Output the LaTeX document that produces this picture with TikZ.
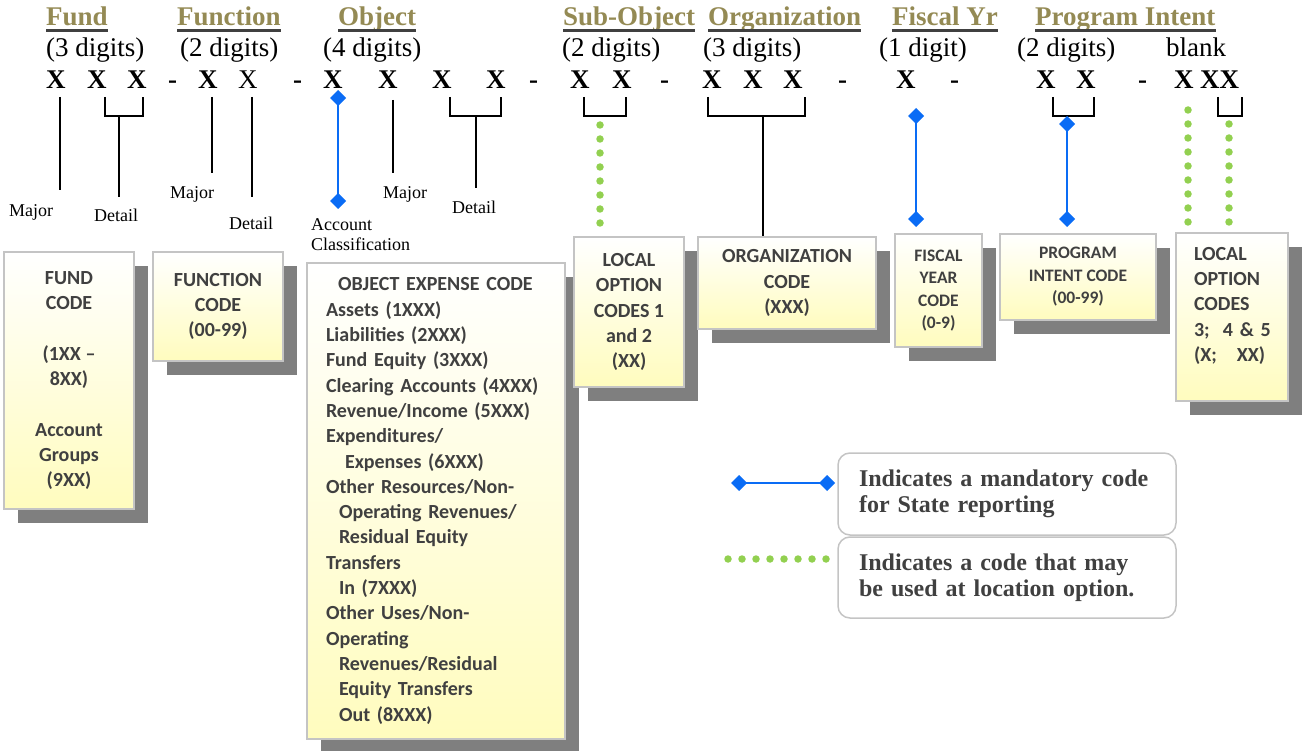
\documentclass[tikz,border=0pt]{standalone}
\usepackage{fontspec}
\setmainfont{Liberation Serif}
\newfontfamily\boxsans{Carlito}
\usetikzlibrary{arrows.meta,shadows}
\definecolor{headOlive}{HTML}{948A54}
\definecolor{codeBlue}{HTML}{0A6CF5}
\definecolor{optGreen}{HTML}{92D050}
\definecolor{boxGray}{HTML}{404040}
\definecolor{boxEdge}{HTML}{C4C4C4}
\definecolor{boxCream}{HTML}{FFFCBE}
\definecolor{shadeGray}{HTML}{7F7F7F}
\tikzset{
  hd/.style={font=\bfseries\fontsize{27}{30}\selectfont, text=headOlive, inner sep=0, anchor=base west},
  dg/.style={font=\fontsize{27}{30}\selectfont, inner sep=0, anchor=base west},
  xd/.style={dg, font=\bfseries\fontsize{27}{30}\selectfont},
  sm/.style={font=\fontsize{18}{20}\selectfont, inner sep=0, anchor=base west},
}

\begin{document}
\begin{tikzpicture}[x=1pt, y=-1pt,
  codebox/.style={draw=boxEdge, line width=1.5pt, top color=white, bottom color=boxCream,
    general shadow={fill=shadeGray, shadow xshift=14pt, shadow yshift=-14pt},
    text=boxGray, align=center, inner sep=0, font=\boxsans\bfseries\fontsize{20}{25.3}\selectfont},
  smallbox/.style={codebox, font=\boxsans\bfseries\fontsize{17.5}{22.5}\selectfont},
  keybox/.style={draw=boxEdge, line width=1.5pt, rounded corners=12pt, minimum width=338pt,
    text width=296pt, inner xsep=21pt, align=left, text=boxGray, font=\bfseries\fontsize{24}{26}\selectfont},
  uline/.style={boxGray, line width=2.5pt},
  tick/.style={line width=1.6pt},
  must/.style={codeBlue, line width=2.5pt, arrows={Diamond[width=16pt,length=16pt]-Diamond[width=16pt,length=16pt]}},
  opt/.style={optGreen, line width=7.5pt, line cap=round, dash pattern=on 0pt off 14pt}]
  \useasboundingbox (0,0) rectangle (1306,751);
  % headings
  \node[hd] (hFund) at (46,26)   {Fund};
  \node[hd] (hFunc) at (177,26)  {Function};
  \node[hd] (hObj)  at (338,26)  {Object};
  \node[hd] (hSub)  at (563,26)  {Sub-Object};
  \node[hd] (hOrg)  at (708,26)  {Organization};
  \node[hd] (hFy)   at (892,26)  {Fiscal Yr};
  \node[hd] (hProg) at (1035,26) {Program Intent};
  \foreach \h in {hFund,hFunc,hObj,hSub,hOrg,hFy,hProg}
    \draw[uline] ([yshift=-4.5pt]\h.base west) -- ([yshift=-4.5pt]\h.base east);
  \node[dg] (nFund) at (46,57)   {(3 digits)};
  \node[dg] (nFunc) at (180,57)  {(2 digits)};
  \node[dg] (nObj)  at (323,57)  {(4 digits)};
  \node[dg] (nSub)  at (562,57)  {(2 digits)};
  \node[dg] (nOrg)  at (703,57)  {(3 digits)};
  \node[dg] (nFy)   at (879,57)  {(1 digit)};
  \node[dg] (nProg) at (1017,57) {(2 digits)};
  \node[dg] (nBlank) at (1166,57) {blank};
  % code digits
  \node[xd] (xFa) at (46,89) {X};  \node[xd] (xFb) at (87,89) {X};  \node[xd] (xFc) at (127,89) {X};
  \node[xd] (dA) at (168,89) {-};
  \node[xd] (xNa) at (198,89) {X}; \node[dg] (xNb) at (238,89) {X};
  \node[xd] (dB) at (293,89) {-};
  \node[xd] (xOa) at (323,89) {X}; \node[xd] (xOb) at (378,89) {X};
  \node[xd] (xOc) at (432,89) {X}; \node[xd] (xOd) at (486,89) {X};
  \node[xd] (dC) at (529,89) {-};
  \node[xd] (xSa) at (570,89) {X}; \node[xd] (xSb) at (612,89) {X};
  \node[xd] (dD) at (660,89) {-};
  \node[xd] (xGa) at (702,89) {X}; \node[xd] (xGb) at (743,89) {X}; \node[xd] (xGc) at (783,89) {X};
  \node[xd] (dE) at (838,89) {-};
  \node[xd] (xY) at (896,89) {X};
  \node[xd] (dF) at (950,89) {-};
  \node[xd] (xPa) at (1036,89) {X}; \node[xd] (xPb) at (1076,89) {X};
  \node[xd] (dG) at (1138,89) {-};
  \node[xd] (xLa) at (1174,89) {X}; \node[xd] (xLb) at (1200,89) {XX};
  % small labels
  \node[sm] (lMajF) at (9,217)   {Major};
  \node[sm] (lDetF) at (94,222)  {Detail};
  \node[sm] (lMajN) at (170,199) {Major};
  \node[sm] (lDetN) at (229,230) {Detail};
  \node[sm] (lAcc)  at (311,231) {Account};
  \node[sm] (lCls)  at (311,251) {Classification};
  \node[sm] (lMajO) at (383,199) {Major};
  \node[sm] (lDetO) at (452,214) {Detail};
  % connector ends
  \coordinate (fMa) at (60,97);   \coordinate (fMb) at (60,190);
  \coordinate (fDl) at (105,97);  \coordinate (fDr) at (143,97);
  \coordinate (fDs) at (119,116); \coordinate (fDe) at (119,197);
  \coordinate (nMa) at (212,97);  \coordinate (nMb) at (212,173);
  \coordinate (nDa) at (252,97);  \coordinate (nDb) at (252,197);
  \coordinate (oAa) at (338,90);  \coordinate (oAb) at (338,209);
  \coordinate (oMa) at (393,100); \coordinate (oMb) at (393,173);
  \coordinate (oDl) at (450,97);  \coordinate (oDr) at (501,97);
  \coordinate (oDs) at (476,116); \coordinate (oDe) at (476,188);
  \coordinate (sDl) at (584,97);  \coordinate (sDr) at (626,97);
  \coordinate (sOa) at (600,125); \coordinate (sOb) at (600,224);
  \coordinate (gDl) at (708,97);  \coordinate (gDr) at (805,97);
  \coordinate (gDs) at (763,116); \coordinate (gDe) at (763,236);
  \coordinate (yAa) at (916,108); \coordinate (yAb) at (916,227);
  \coordinate (pDl) at (1053,97); \coordinate (pDr) at (1094,97);
  \coordinate (pAa) at (1067,116); \coordinate (pAb) at (1067,227);
  \coordinate (lOa) at (1188,110); \coordinate (lOb) at (1188,223);
  \coordinate (lDl) at (1218,97); \coordinate (lDr) at (1242,97);
  \coordinate (lPa) at (1229,124); \coordinate (lPb) at (1229,223);
  \draw[tick] (fMa) -- (fMb);
  \draw[tick] (fDl) -- (fDl |- fDs) -- (fDr |- fDs) -- (fDr);
  \draw[tick] (fDs) -- (fDe);
  \draw[tick] (nMa) -- (nMb);
  \draw[tick] (nDa) -- (nDb);
  \draw[must] (oAa) -- (oAb);
  \draw[tick] (oMa) -- (oMb);
  \draw[tick] (oDl) -- (oDl |- oDs) -- (oDr |- oDs) -- (oDr);
  \draw[tick] (oDs) -- (oDe);
  \draw[tick] (sDl) -- (sDl |- oDs) -- (sDr |- oDs) -- (sDr);
  \draw[opt] (sOa) -- (sOb);
  \draw[tick] (gDl) -- (gDl |- gDs) -- (gDr |- gDs) -- (gDr);
  \draw[tick] (gDs) -- (gDe);
  \draw[must] (yAa) -- (yAb);
  \draw[tick] (pDl) -- (pDl |- gDs) -- (pDr |- gDs) -- (pDr);
  \draw[must] (pAa) -- (pAb);
  \draw[opt] (lOa) -- (lOb);
  \draw[tick] (lDl) -- (lDl |- gDs) -- (lDr |- gDs) -- (lDr);
  \draw[opt] (lPa) -- (lPb);
  % code boxes
  \node[codebox, minimum width=130pt, minimum height=257pt] (fundBox) at (69,380.5)
    {FUND\\CODE\\\mbox{}\\(1XX –\\8XX)\\\mbox{}\\Account\\Groups\\(9XX)};
  \node[codebox, minimum width=130pt, minimum height=109pt] (funcBox) at (218,306.5)
    {FUNCTION\\CODE\\(00-99)};
  \node[codebox, align=left, text width=220pt, inner xsep=19pt, minimum height=476pt] (objBox) at (436,501)
    {\hspace*{12pt}OBJECT EXPENSE CODE\\Assets (1XXX)\\Liabilities (2XXX)\\Fund Equity (3XXX)\\
     Clearing Accounts (4XXX)\\Revenue/Income (5XXX)\\Expenditures/\\\hspace*{19pt}Expenses (6XXX)\\
     Other Resources/Non-\\\hspace*{13pt}Operating Revenues/\\\hspace*{13pt}Residual Equity\\Transfers\\
     \hspace*{13pt}In (7XXX)\\Other Uses/Non-\\Operating\\\hspace*{13pt}Revenues/Residual\\
     \hspace*{13pt}Equity Transfers\\\hspace*{13pt}Out (8XXX)};
  \node[codebox, minimum width=110pt, minimum height=150pt] (subBox) at (629,312)
    {LOCAL\\OPTION\\CODES 1\\and 2\\(XX)};
  \node[codebox, minimum width=178pt, minimum height=92pt] (orgBox) at (787,283)
    {ORGANIZATION\\CODE\\(XXX)};
  \node[smallbox, minimum width=87pt, minimum height=113pt] (fyBox) at (938.5,290.5)
    {FISCAL\\YEAR\\CODE\\(0-9)};
  \node[smallbox, minimum width=156pt, minimum height=86pt] (progBox) at (1078,277)
    {PROGRAM\\INTENT CODE\\(00-99)};
  \node[codebox, align=left, text width=76pt, inner xsep=18pt, minimum height=168pt] (locBox) at (1232,317)
    {LOCAL\\OPTION\\CODES\\\mbox{3;\ \ 4 \& 5}\\\mbox{(X;\ \ \ XX)}\\\mbox{}};
  % key
  \node[keybox, minimum height=82pt] (keyMust) at (1007,494)
    {Indicates a mandatory code\\for State reporting};
  \node[keybox, minimum height=81pt] (keyOpt) at (1007,577.5)
    {Indicates a code that may\\be used at location option.};
  \coordinate (kMa) at (731,483); \coordinate (kMb) at (835,483);
  \coordinate (kOa) at (728,559); \coordinate (kOb) at (827,559);
  \draw[must] (kMa) -- (kMb);
  \draw[opt] (kOa) -- (kOb);
\end{tikzpicture}
\end{document}
